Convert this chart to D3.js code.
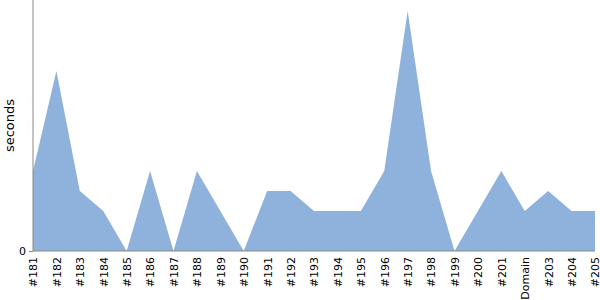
<!doctype html>
<html lang="en">
<head>
<meta charset="utf-8">
<script src="https://cdn.jsdelivr.net/npm/d3@7"></script>
<style type="text/css">
body { margin: 0; background: #fff; }
svg text { font-family: "DejaVu Sans", sans-serif; }
.axis path, .axis line { stroke: #888; }
</style>
</head>
<body>
<svg width="600" height="300"></svg>
<script>
// builds, in order
var builds = ['#181','#182','#183','#184','#185','#186','#187','#188','#189','#190',
    '#191','#192','#193','#194','#195','#196','#197','#198','#199','#200',
    '#201','Domain','#203','#204','#205'];
// seconds per build
var seconds = [4, 9, 3, 2, 0, 4, 0, 4, 2, 0,
    3, 3, 2, 2, 2, 4, 12, 4, 0, 2,
    4, 2, 3, 2, 2];
var yTicks = [0];

var margin = {top: 11, right: 5, bottom: 49, left: 33},
    width = 600 - margin.left - margin.right,
    height = 300 - margin.top - margin.bottom;

var svg = d3.select('svg');
var g = svg.append('g').attr('transform', 'translate(' + margin.left + ',' + margin.top + ')');

var x = d3.scalePoint().domain(builds).range([0, width]);
var y = d3.scaleLinear().domain([0, d3.max(seconds)]).range([height, 0]);

var area = d3.area()
    .x(function(d, i) { return x(builds[i]); })
    .y0(height)
    .y1(function(d) { return y(d); });

g.append('path')
    .datum(seconds)
    .attr('fill', '#8fb2dc')
    .attr('d', area);

// left axis line spans the whole height of the svg
g.append('line')
    .attr('x1', 0).attr('x2', 0)
    .attr('y1', -margin.top).attr('y2', height)
    .attr('stroke', '#888');

var yAxis = g.append('g').attr('class', 'axis')
    .call(d3.axisLeft(y).tickValues(yTicks).tickSize(4).tickSizeOuter(0));
yAxis.select('.domain').remove();
yAxis.selectAll('text').attr('font-size', 11).attr('fill', '#000');

var xAxis = g.append('g').attr('class', 'axis')
    .attr('transform', 'translate(0,' + height + ')')
    .call(d3.axisBottom(x).tickSize(0).tickPadding(6));
xAxis.select('.domain').attr('d', 'M0,0H' + width);
xAxis.selectAll('text')
    .attr('font-size', 11)
    .attr('fill', '#000')
    .attr('transform', 'rotate(-90)')
    .attr('x', -6)
    .attr('y', 0)
    .attr('dy', '0.35em')
    .style('text-anchor', 'end');

svg.append('text')
    .attr('transform', 'translate(14,' + ((margin.top + height) / 2) + ') rotate(-90)')
    .attr('text-anchor', 'middle')
    .attr('font-size', 13)
    .text('seconds');
</script>
</body>
</html>
